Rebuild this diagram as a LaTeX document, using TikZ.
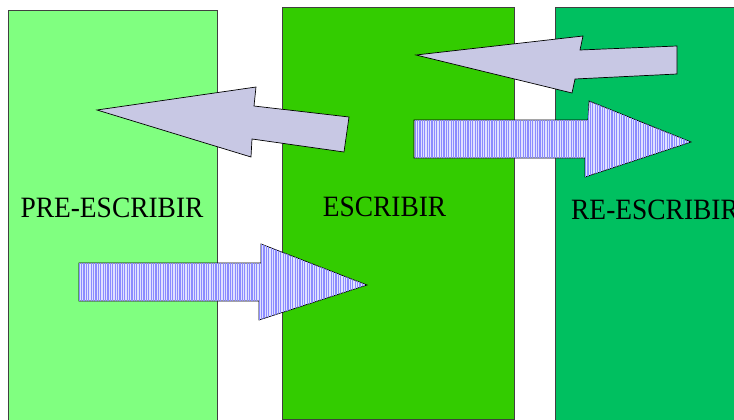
\documentclass[tikz,border=0pt]{standalone}
\usepackage{fontspec}
\setmainfont{Liberation Serif}
\usetikzlibrary{patterns.meta}
\definecolor{preG}{RGB}{128,255,128}
\definecolor{escG}{RGB}{51,204,0}
\definecolor{reG}{RGB}{0,192,96}
\definecolor{edgeG}{RGB}{64,64,64}
\definecolor{hatchA}{RGB}{200,200,228}
\definecolor{stripeBg}{RGB}{225,225,255}
\definecolor{stripeB}{RGB}{140,140,255}
\begin{document}
\begin{tikzpicture}[x=1pt,y=-1pt,
  panel/.style={draw=edgeG,line width=0.8pt},
  label/.style={anchor=base,font=\fontsize{29.5}{32}\selectfont,inner sep=0pt,xscale=0.93,transform shape},
  backarrow/.style={draw=black,line width=0.7pt,fill=hatchA,line join=miter},
  fwdarrow/.style={draw=black,line width=0.7pt,fill=stripeBg,
    postaction={pattern={Lines[angle=90,distance=2.4pt,line width=1.1pt]},pattern color=stripeB},line join=miter}]
\useasboundingbox (0,0) rectangle (734,420);
\clip (0,0) rectangle (734,420);
% panels
\draw[panel,fill=preG] (8.5,10) rectangle (217,430);
\draw[panel,fill=escG] (282,7) rectangle (514,419);
\draw[panel,fill=reG] (555,7) rectangle (740,430);
% labels
\node[label] (pre) at (112,217) {PRE-ESCRIBIR};
\node[label] (esc) at (384.5,216) {ESCRIBIR};
\node[label,anchor=base west] (re) at (571,219) {RE-ESCRIBIR};
% arrow A (escribir -> pre-escribir)
\draw[backarrow] (97,110) -- (256,87) -- (254,106) -- (349,117) -- (344,152)
  -- (252,139) -- (251,157) -- cycle;
% arrow B (re-escribir -> escribir)
\draw[backarrow] (416,55) -- (583,36) -- (580,50) -- (677,46) -- (677,74)
  -- (575,79) -- (572,93) -- cycle;
% arrow C (escribir -> re-escribir)
\draw[fwdarrow] (414,120) -- (588,120) -- (589,101) -- (691,142) -- (585,177)
  -- (585,158) -- (414,158) -- cycle;
% arrow D (pre-escribir -> escribir)
\draw[fwdarrow] (79,263) -- (261,263) -- (261,244) -- (367,285) -- (259,320)
  -- (259,301) -- (79,301) -- cycle;
\end{tikzpicture}
\end{document}
